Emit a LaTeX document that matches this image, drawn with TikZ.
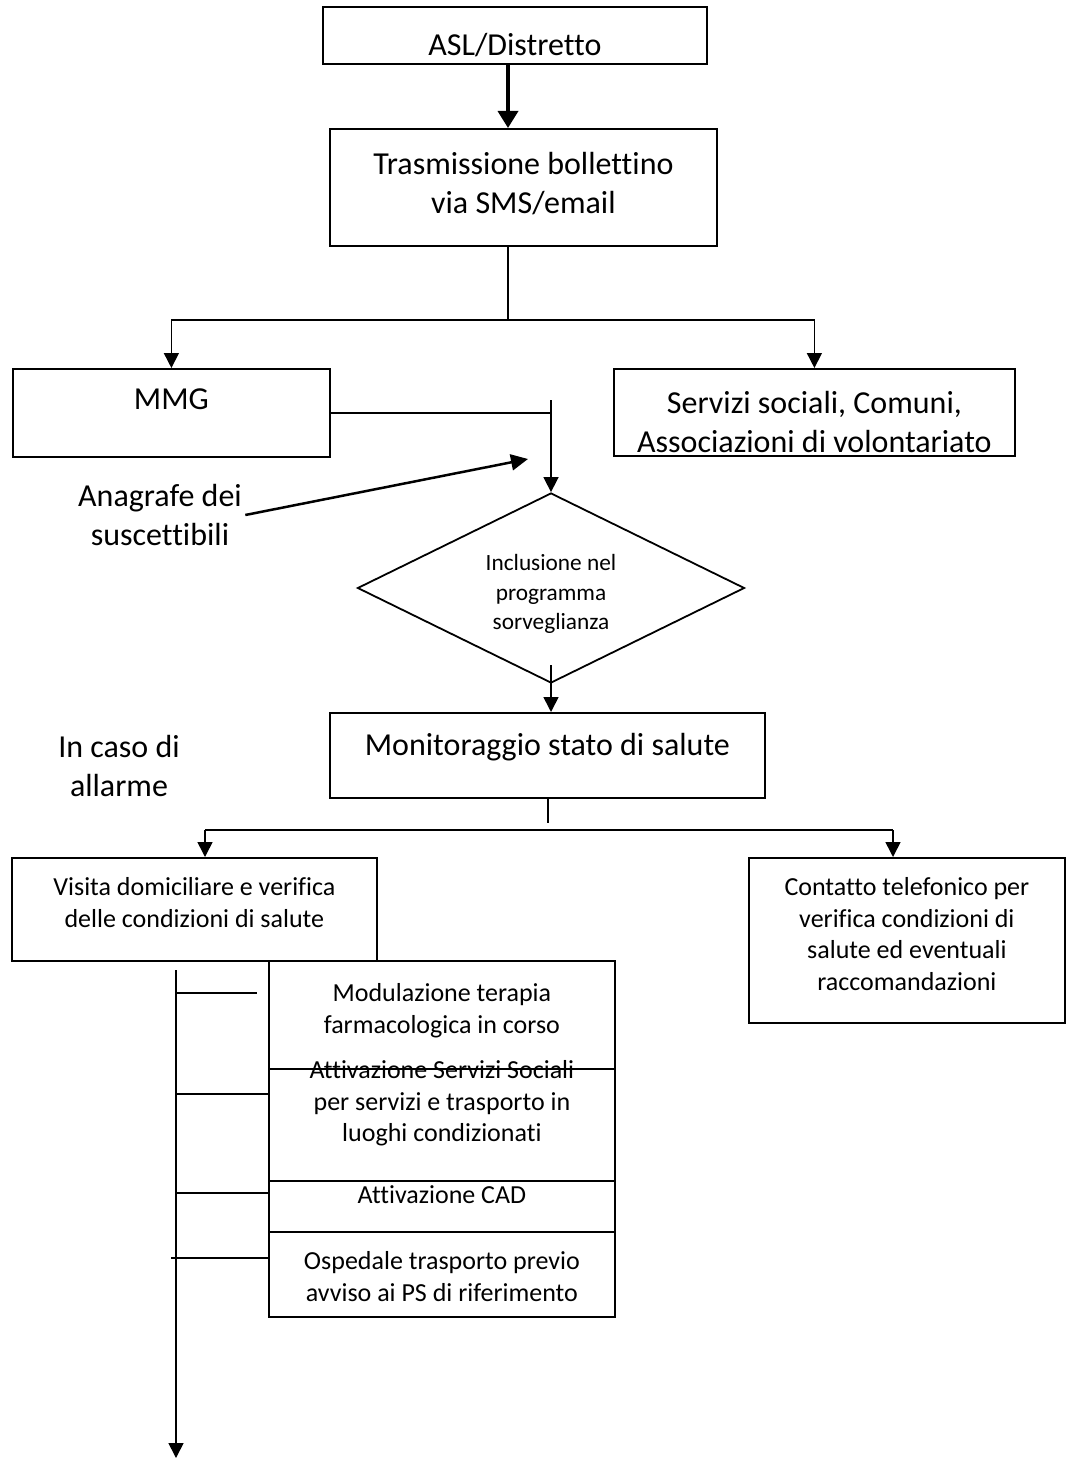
\documentclass[tikz,border=0pt]{standalone}
\usepackage{fontspec}
\setmainfont{Carlito}[Ligatures={NoCommon}]
\usetikzlibrary{arrows.meta,shapes.geometric,calc}
\newcommand\myBig{\fontsize{32}{39}\selectfont}
\newcommand\mySmall{\fontsize{26}{31.5}\selectfont}
\newcommand\myTiny{\fontsize{23.3}{29.5}\selectfont}
\tikzset{
  box/.style={draw, line width=1.8pt, inner sep=0pt, align=center, anchor=north west},
  conn/.style={line width=1.6pt},
  arr/.style={line width=1.6pt, -{Triangle[width=15pt,length=15pt]}},
  plain/.style={align=center},
}
\begin{document}
\begin{tikzpicture}[x=1pt,y=-1pt]
\useasboundingbox (0,0) rectangle (1066,1461);
% boxes
\node[box, font=\myBig, minimum width=384pt, text height=49pt, text depth=8pt] (asl) at (322,6) {ASL/Distretto};
\node[box, font=\myBig, minimum width=387pt, text height=85pt, text depth=32pt] (tra) at (329,128) {Trasmissione bollettino\\via SMS/email};
\node[box, font=\myBig, minimum width=317pt, text height=41pt, text depth=47pt] (mmg) at (12,368) {MMG};
\node[box, font=\myBig, minimum width=401pt, text height=84pt, text depth=3pt] (serv) at (613,368) {Servizi sociali, Comuni,\\Associazioni di volontariato};
\node[draw, line width=1.8pt, diamond, inner sep=0pt, minimum width=387pt, minimum height=190pt] (dia) at (551,588) {};
\node[plain, font=\myTiny] (diat) at (551,594) {Inclusione nel\\programma\\sorveglianza};
\node[box, font=\myBig, minimum width=435pt, text height=43pt, text depth=42pt] (mon) at (329,712) {Monitoraggio stato di salute};
\node[box, font=\mySmall, minimum width=365pt, text height=69.5pt, text depth=33.5pt] (vis) at (11,857) {Visita domiciliare e verifica\\delle condizioni di salute};
\node[box, font=\mySmall, minimum width=316pt, text height=132.5pt, text depth=32.5pt] (con) at (748,857) {Contatto telefonico per\\verifica condizioni di\\salute ed eventuali\\raccomandazioni};
\node[box, font=\mySmall, minimum width=346pt, text height=72.5pt, text depth=35.5pt] (mod) at (268,960) {Modulazione terapia\\farmacologica in corso};
\node[box, font=\mySmall, minimum width=346pt, text height=73pt, text depth=39pt] (att) at (268,1068) {Attivazione Servizi Sociali\\per servizi e trasporto in\\luoghi condizionati};
\node[box, font=\mySmall, minimum width=346pt, text height=23pt, text depth=28pt] (cad) at (268,1180) {Attivazione CAD};
\node[box, font=\mySmall, minimum width=346pt, text height=69.5pt, text depth=15.5pt] (osp) at (268,1231) {Ospedale trasporto previo\\avviso ai PS di riferimento};
% free texts
\node[plain, font=\myBig] (ana) at (160,515) {Anagrafe dei\\suscettibili};
\node[plain, font=\myBig] (alarm) at (119,766) {In caso di\\allarme};
% coordinates
\coordinate (a1) at (508,0);
\coordinate (s1) at (508,320);
\coordinate (j1) at (551,400);
\coordinate (anaend) at (528,459);
\coordinate (j2) at (551,665);
\coordinate (s2) at (548,823);
\coordinate (h2l) at (205,830);
\coordinate (h2r) at (893,830);
\coordinate (vt) at (176,970);
\coordinate (vb) at (176,1458);
\coordinate (k1) at (0,993);
\coordinate (k2) at (0,1094);
\coordinate (k3) at (0,1193);
\coordinate (k4) at (0,1258);
% connectors
\draw[line width=3.5pt, -{Triangle[width=20pt,length=17pt]}] (asl.south -| a1) -- (tra.north -| a1);
\draw[conn] (tra.south -| s1) -- (s1);
\draw[arr] (s1) -| (mmg.north);
\draw[arr] (s1) -| (serv.north);
\draw[conn] (mmg.east) -- (mmg.east -| j1);
\draw[arr] (j1) -- (dia.north);
\draw[line width=2.5pt, -{Triangle[width=16pt,length=17pt]}] (ana.east) -- (anaend);
\draw[arr] (j2) -- (mon.north -| j2);
\draw[conn] (mon.south -| s2) -- (s2);
\draw[conn] (h2l) -- (h2r);
\draw[arr] (h2l) -- (vis.north -| h2l);
\draw[arr] (h2r) -- (con.north -| h2r);
\draw[arr] (vt) -- (vb);
\draw[conn] (vt |- k1) -- ([xshift=-11pt]mod.west |- k1);
\draw[conn] (vt |- k2) -- (att.west |- k2);
\draw[conn] (vt |- k3) -- (cad.west |- k3);
\draw[conn] ([xshift=-5pt]vt |- k4) -- (osp.west |- k4);
\end{tikzpicture}
\end{document}
